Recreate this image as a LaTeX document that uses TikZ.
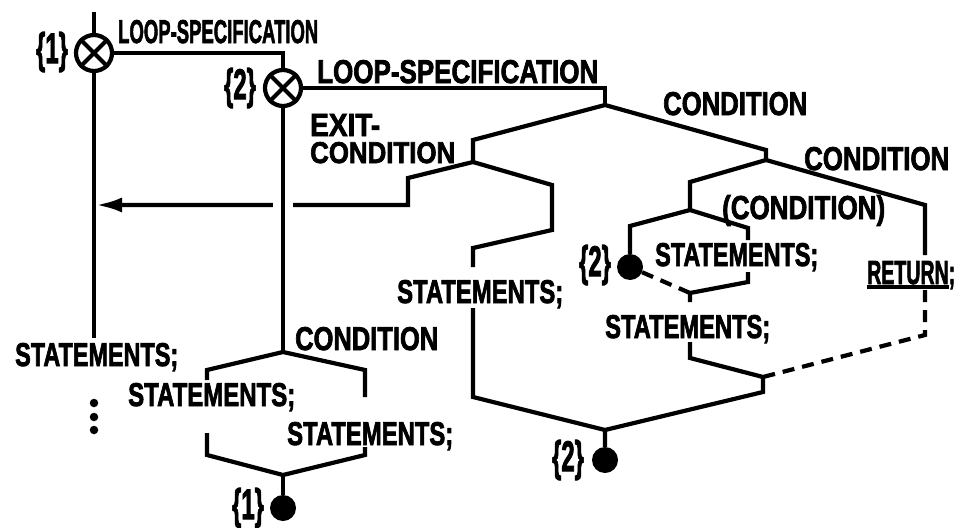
\documentclass[tikz,border=0pt]{standalone}
\usepackage{fontspec}
\setmainfont{Liberation Sans}
\newfontface\heavy{Liberation Sans Bold}[FakeBold=2.5]
\usetikzlibrary{arrows.meta}
\newcommand{\fitlbl}[3]{\resizebox{#1pt}{#2pt}{\heavy #3}}
\newcommand{\brlbl}[1]{\resizebox*{32pt}{40pt}{\heavy\{#1\}}}
\begin{document}
\begin{tikzpicture}[x=1pt,y=-1pt,
  wire/.style={line width=4.2pt},
  dashwire/.style={line width=4.2pt, dash pattern=on 12pt off 8pt},
  loopsym/.style={circle, draw, line width=4.2pt, minimum size=36pt, inner sep=0pt, fill=white},
  blob/.style={circle, fill=black, minimum size=26pt, inner sep=0pt},
  smalldot/.style={circle, fill=black, minimum size=8.5pt, inner sep=0pt},
  lbl/.style={inner sep=0pt, anchor=base west},
  brace/.style={inner sep=0pt}]
\fill[white] (0,0) rectangle (963,527);
\useasboundingbox (0,0) rectangle (963,527);

% ---- loop 1
\coordinate (t0) at (94,12);
\node[loopsym] (L1) at (94,53) {};
\node[loopsym] (L2) at (283,88) {};
\draw[wire] (t0) -- (L1.north);
\draw[wire] (L1.north east) -- (L1.south west);
\draw[wire] (L1.north west) -- (L1.south east);
\draw[wire] (L2.north east) -- (L2.south west);
\draw[wire] (L2.north west) -- (L2.south east);
\coordinate (c1) at (283,53);
\draw[wire] (L1.east) -- (c1) -- (L2.north);
\coordinate (l1end) at (94,338);
\draw[wire] (L1.south) -- (l1end);
\node[smalldot] (v1) at (94,403) {};
\node[smalldot] (v2) at (94,417) {};
\node[smalldot] (v3) at (94,430) {};

% ---- loop 2 main decision
\coordinate (c2) at (605,88);
\coordinate (B1) at (605,105);
\draw[wire] (L2.east) -- (c2) -- (B1);
\coordinate (b1l) at (473,140);
\coordinate (B2) at (473,162);
\coordinate (b1r) at (766,150);
\coordinate (B3) at (766,160);
\draw[wire] (B2) -- (b1l) -- (B1) -- (b1r) -- (B3);

% exit-condition
\coordinate (b2l) at (408,178);
\coordinate (b2l2) at (408,205);
\coordinate (aend) at (96,205);
\draw[wire,-{Latex[length=26pt,width=15pt]}] (B2) -- (b2l) -- (b2l2) -- (aend);
\coordinate (b2r) at (552,185);
\coordinate (b2r2) at (552,230);
\coordinate (s1top) at (473,248);
\coordinate (s1a) at (473,267);
\coordinate (s1b) at (473,308);
\coordinate (s1c) at (473,397);
\coordinate (M1) at (605,430);
\node[blob] (D2) at (605,460) {};
\draw[wire] (B2) -- (b2r) -- (b2r2) -- (s1top) -- (s1a);
\draw[wire] (s1b) -- (s1c) -- (M1) -- (D2);

% condition / condition
\coordinate (b3r) at (925,205);
\coordinate (r1) at (925,255);
\coordinate (r2) at (925,290);
\coordinate (r3) at (925,335);
\coordinate (M3) at (763,377);
\coordinate (m3s) at (763,392);
\draw[wire] (B3) -- (b3r) -- (r1);
\draw[dashwire] (r2) -- (r3) -- (M3);
\coordinate (b3l) at (690,182);
\coordinate (B4) at (690,210);
\draw[wire] (B3) -- (b3l) -- (B4);
\coordinate (b4l) at (630,226);
\node[blob] (D3) at (630,267) {};
\draw[wire] (B4) -- (b4l) -- (D3);
\coordinate (b4r) at (748,228);
\coordinate (b4r2) at (748,240);
\coordinate (b4r3) at (748,272);
\coordinate (b4r4) at (748,282);
\coordinate (M2) at (690,293);
\coordinate (m2s) at (690,302);
\draw[wire] (B4) -- (b4r) -- (b4r2);
\draw[wire] (b4r3) -- (b4r4) -- (M2) -- (m2s);
\draw[dashwire] (D3) -- (M2);
\coordinate (s2a) at (690,342);
\coordinate (s2b) at (690,358);
\draw[wire] (s2a) -- (s2b) -- (M3) -- (m3s) -- (M1);

% ---- lower decision in loop 2
\coordinate (B5) at (283,352);
\draw[wire, preaction={draw=white, line width=20pt}] (L2.south) -- (B5);
\coordinate (b5l) at (207,370);
\coordinate (b5l2) at (207,380);
\coordinate (b5l3) at (207,433);
\coordinate (b5l4) at (207,455);
\coordinate (M4) at (283,475);
\coordinate (b5r) at (365,370);
\coordinate (b5r2) at (365,397);
\coordinate (b5r3) at (365,447);
\coordinate (b5r4) at (365,455);
\node[blob] (D1) at (283,508) {};
\draw[wire] (b5l2) -- (b5l) -- (B5) -- (b5r) -- (b5r2);
\draw[wire] (b5l3) -- (b5l4) -- (M4) -- (b5r4) -- (b5r3);
\draw[wire] (M4) -- (D1);

% ---- labels
\node[brace] (k1) at (52,52) {\brlbl{1}};
\node[brace] (k2) at (240,88) {\brlbl{2}};
\node[brace] (k3) at (595,265) {\brlbl{2}};
\node[brace] (k4) at (568,460) {\brlbl{2}};
\node[brace] (k5) at (248,508) {\brlbl{1}};

\node[lbl] (tls1) at (118,43) {\fitlbl{200}{23}{LOOP-SPECIFICATION}};
\node[lbl] (tls2) at (317,83) {\fitlbl{281}{23}{LOOP-SPECIFICATION}};
\node[lbl] (tc1) at (663,115) {\fitlbl{144}{23}{CONDITION}};
\node[lbl] (tc2) at (804,170) {\fitlbl{145}{23}{CONDITION}};
\node[lbl] (tex1) at (310,136) {\fitlbl{70}{22}{EXIT-}};
\node[lbl] (tex2) at (310,163) {\fitlbl{145}{21}{CONDITION}};
\node[lbl] (tc3) at (722,219) {\fitlbl{163}{24}{(CONDITION)}};
\node[lbl] (ts1) at (655,266) {\fitlbl{163}{23}{STATEMENTS;}};
\node[lbl] (tret) at (867,284) {\fitlbl{88}{23}{\setbox0\hbox{RETURN}\rlap{\rule[-1.4pt]{\wd0}{1.1pt}}\box0;}};
\node[lbl] (ts2) at (397,303) {\fitlbl{166}{23}{STATEMENTS;}};
\node[lbl] (ts3) at (605,338) {\fitlbl{165}{23}{STATEMENTS;}};
\node[lbl] (tc4) at (295,350) {\fitlbl{143}{23}{CONDITION}};
\node[lbl] (ts4) at (15,366) {\fitlbl{163}{23}{STATEMENTS;}};
\node[lbl] (ts5) at (128,406) {\fitlbl{167}{23}{STATEMENTS;}};
\node[lbl] (ts6) at (287,445) {\fitlbl{166}{23}{STATEMENTS;}};
\end{tikzpicture}
\end{document}
